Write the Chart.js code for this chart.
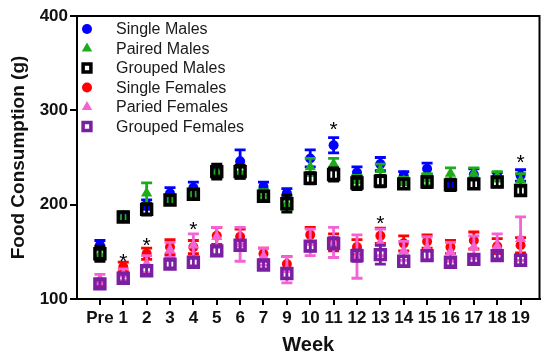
<!DOCTYPE html>
<html>
<head>
<meta charset="utf-8">
<script src="https://cdn.jsdelivr.net/npm/chart.js@4"></script>
<style>
  html, body { margin: 0; padding: 0; background: #fff; }
  #wrap { width: 550px; height: 361px; }
</style>
</head>
<body>
<div id="wrap"><canvas id="chart" width="550" height="361"></canvas></div>
<script>
const weeks = ['Pre','1','2','3','4','5','6','7','9','10','11','12','13','14','15','16','17','18','19']

const singleMales      = [157, 187, 200, 212, 218, 235, 246, 219, 212, 249, 263, 234, 243, 231, 238, 222, 232, 230, 231]
const singleMalesErr   = [5, 4, 5, 6, 6, 6, 12, 5, 5, 9, 8, 6, 7, 4, 6, 4, 6, 4, 6]
const pairedMales      = [147, 188, 212, 206, 212, 235, 234, 211, 201, 240, 243, 225, 237, 225, 227, 233, 233, 230, 226]
const pairedMalesErr   = [5, 4, 11, 4, 4, 5, 6, 5, 6, 9, 6, 6, 6, 4, 6, 6, 6, 5, 7]
const groupedMales     = [148, 187, 195, 205, 211, 235, 235, 209, 201, 228, 232, 223, 225, 222, 224, 221, 222, 224, 215]
const groupedMalesErr  = [8, 5, 6, 5, 5, 8, 7, 5, 9, 6, 7, 7, 6, 5, 6, 6, 5, 5, 5]

const singleFemales     = [116, 134, 148, 155, 155, 167, 166, 148, 137, 168, 160, 155, 167, 159, 161, 155, 162, 156, 157]
const singleFemalesErr  = [4, 5, 6, 8, 7, 9, 8, 6, 8, 8, 9, 8, 8, 8, 7, 7, 9, 8, 8]
const pairedFemales     = [121, 126, 137, 152, 157, 166, 158, 145, 131, 160, 160, 145, 160, 151, 154, 150, 155, 156, 164]
const pairedFemalesErr  = [5, 6, 9, 8, 12, 10, 18, 9, 14, 14, 16, 23, 14, 10, 12, 10, 12, 13, 23]
const groupedFemales    = [116, 122, 130, 137, 139, 151, 157, 136, 127, 156, 159, 146, 147, 140, 146, 139, 142, 146, 141]
const groupedFemalesErr = [4, 4, 4, 4, 4, 4, 5, 4, 5, 5, 6, 6, 10, 5, 5, 4, 4, 4, 5]

// significance marks: week index, value
const starWeeks  = [1, 2, 4, 10, 12, 18]
const starValues = [146, 163, 180, 285, 186, 251]

const yTicks = [100, 200, 300, 400]

const BLUE = '#0000ff', GREEN = '#1bab1b', BLACK = '#000000'
const RED = '#ff0000', PINK = '#f462d6', PURPLE = '#7a1fa2'

const pts = vals => vals.map((v, i) => ({ x: i, y: v }))

function series(label, vals, errs, color, style, order) {
    const hollow = style === 'rect'
    return {
        label,
        data: pts(vals),
        errors: errs,
        order,
        pointStyle: style,
        pointRadius: hollow ? 7 : (style === 'triangle' ? 6.5 : 5),
        pointBorderWidth: hollow ? 3.5 : 0,
        pointBackgroundColor: hollow ? 'rgba(0,0,0,0)' : color,
        pointBorderColor: color,
        borderColor: color,
        backgroundColor: color,
        showLine: false,
    }
}

const datasets = [
    series('Single Males', singleMales, singleMalesErr, BLUE, 'circle', 3),
    series('Paired Males', pairedMales, pairedMalesErr, GREEN, 'triangle', 2),
    series('Grouped Males', groupedMales, groupedMalesErr, BLACK, 'rect', 1),
    series('Single Females', singleFemales, singleFemalesErr, RED, 'circle', 3),
    series('Paried Females', pairedFemales, pairedFemalesErr, PINK, 'triangle', 2),
    series('Grouped Females', groupedFemales, groupedFemalesErr, PURPLE, 'rect', 1),
]

const errorBars = {
    id: 'errorBars',
    beforeDatasetDraw(chart, args) {
        const ds = chart.data.datasets[args.index]
        const { x, y } = chart.scales
        const ctx = chart.ctx
        ctx.save()
        ctx.strokeStyle = ds.borderColor
        ctx.lineWidth = 2.8
        ds.data.forEach((p, i) => {
            const e = ds.errors[i]
            const px = x.getPixelForValue(p.x)
            const top = y.getPixelForValue(p.y + e)
            const bot = y.getPixelForValue(p.y - e)
            ctx.beginPath()
            ctx.moveTo(px, top); ctx.lineTo(px, bot)
            ctx.moveTo(px - 5.5, top); ctx.lineTo(px + 5.5, top)
            ctx.moveTo(px - 5.5, bot); ctx.lineTo(px + 5.5, bot)
            ctx.stroke()
        })
        ctx.restore()
    }
}

const frameAndLegend = {
    id: 'frameAndLegend',
    afterDraw(chart) {
        const ctx = chart.ctx
        const a = chart.chartArea
        const { x, y } = chart.scales
        ctx.save()
        // top and right frame
        ctx.strokeStyle = '#000'
        ctx.lineWidth = 2
        ctx.beginPath()
        ctx.moveTo(a.left, a.top); ctx.lineTo(a.right, a.top); ctx.lineTo(a.right, a.bottom)
        ctx.stroke()

        // stars
        ctx.fillStyle = '#000'
        ctx.font = '21px "Liberation Sans", Arial, sans-serif'
        ctx.textAlign = 'center'
        ctx.textBaseline = 'alphabetic'
        starWeeks.forEach((w, i) => {
            ctx.fillText('*', x.getPixelForValue(w), y.getPixelForValue(starValues[i]) + 12)
        })

        // legend
        ctx.font = '16px "Liberation Sans", Arial, sans-serif'
        ctx.textAlign = 'left'
        ctx.textBaseline = 'middle'
        chart.data.datasets.forEach((ds, i) => {
            const ly = a.top + 13 + i * 19.5
            const lx = a.left + 10
            ctx.fillStyle = ds.pointBackgroundColor
            ctx.strokeStyle = ds.pointBorderColor
            ctx.lineWidth = ds.pointBorderWidth
            Chart.helpers.drawPoint(ctx, {
                pointStyle: ds.pointStyle,
                radius: ds.pointStyle === 'rect' ? 5.5 : (ds.pointStyle === 'triangle' ? 6 : 5),
                borderWidth: ds.pointBorderWidth,
                rotation: 0,
            }, lx, ly)
            ctx.fillStyle = '#1a1a1a'
            ctx.fillText(ds.label, a.left + 39, ly + 1)
        })
        ctx.restore()
    }
}

new Chart(document.getElementById('chart'), {
    type: 'scatter',
    data: { datasets },
    options: {
        responsive: false,
        animation: false,
        events: [],
        clip: false,
        layout: { padding: { top: 16, right: 10, left: 0, bottom: 0 } },
        plugins: { legend: { display: false }, tooltip: { enabled: false } },
        scales: {
            x: {
                type: 'linear',
                min: -0.98,
                max: 18.81,
                afterBuildTicks: s => { s.ticks = weeks.map((_, i) => ({ value: i })) },
                afterFit: s => { s.height = 62 },
                border: { display: true, color: '#000', width: 2 },
                grid: { display: true, drawOnChartArea: false, drawTicks: true, tickLength: 6, color: '#000', lineWidth: 2 },
                ticks: {
                    autoSkip: false,
                    maxRotation: 0,
                    padding: 3,
                    color: '#111',
                    font: { family: '"Liberation Sans", Arial, sans-serif', size: 17, weight: 'bold' },
                    callback: v => weeks[v] ?? '',
                },
                title: {
                    display: true,
                    text: 'Week',
                    color: '#111',
                    padding: { top: 0, bottom: 4 },
                    font: { family: '"Liberation Sans", Arial, sans-serif', size: 20, weight: 'bold' },
                },
            },
            y: {
                min: 100,
                max: 400,
                afterBuildTicks: s => { s.ticks = yTicks.map(v => ({ value: v })) },
                afterFit: s => { s.width = 77 },
                border: { display: true, color: '#000', width: 2 },
                grid: { display: true, drawOnChartArea: false, drawTicks: true, tickLength: 7, color: '#000', lineWidth: 2 },
                ticks: {
                    padding: 2,
                    color: '#111',
                    font: { family: '"Liberation Sans", Arial, sans-serif', size: 17, weight: 'bold' },
                },
                title: {
                    display: true,
                    text: 'Food Consumption (g)',
                    color: '#111',
                    padding: { top: 7, bottom: 0 },
                    font: { family: '"Liberation Sans", Arial, sans-serif', size: 19, weight: 'bold' },
                },
            },
        },
    },
    plugins: [errorBars, frameAndLegend],
})
</script>
</body>
</html>
